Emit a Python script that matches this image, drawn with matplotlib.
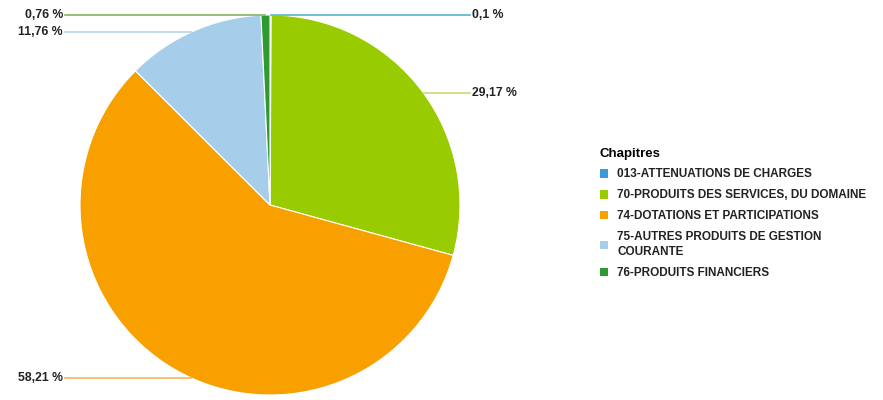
import numpy as np
import matplotlib.pyplot as plt
from matplotlib.patches import Patch

plt.rcParams['font.family'] = ['Liberation Sans', 'DejaVu Sans']

# données
chapitres = ['013-ATTENUATIONS DE CHARGES', '70-PRODUITS DES SERVICES, DU DOMAINE',
             '74-DOTATIONS ET PARTICIPATIONS', '75-AUTRES PRODUITS DE GESTION\nCOURANTE',
             '76-PRODUITS FINANCIERS']
parts = [0.1, 29.17, 58.21, 11.76, 0.76]
etiquettes = ['0,1 %', '29,17 %', '58,21 %', '11,76 %', '0,76 %']
couleurs = ['#3d9ad8', '#99cc00', '#f7a000', '#a6cdea', '#2f9a2f']
lignes = ['#5bb0d0', '#c8dc70', '#f2b860', '#b8d4e8', '#88b060']

W, H = 883, 400
fig = plt.figure(figsize=(W / 100, H / 100), dpi=100)
ax = fig.add_axes([0, 0, 1, 1])

cx, cy, r = 270, 195, 190
wedges, _ = ax.pie(parts, colors=couleurs, startangle=90, counterclock=False,
                   center=(cx, cy), radius=r, frame=True,
                   wedgeprops=dict(edgecolor='white', linewidth=0.8))
ax.set_xlim(0, W)
ax.set_ylim(0, H)
ax.set_aspect('equal')
ax.axis('off')

# position des étiquettes (y en pixels depuis le haut, côté)
label_y = [15, 93, 378, 32, 15]
cote = [1, 1, -1, -1, -1]
for i, w in enumerate(wedges):
    y = H - label_y[i]
    dy = min(abs(y - cy), r)
    dx = np.sqrt(r ** 2 - dy ** 2)
    if i in (0, 4):
        # petites parts: point au sommet
        ang = np.deg2rad((w.theta1 + w.theta2) / 2)
        xe = cx + r * np.cos(ang)
    else:
        xe = cx + cote[i] * dx
    if cote[i] > 0:
        ax.plot([xe, 470], [y, y], color=lignes[i], lw=1.2)
        ax.text(472, y, etiquettes[i], ha='left', va='center', fontsize=8.8,
                fontweight='bold', color='#222222')
    else:
        ax.plot([65, xe], [y, y], color=lignes[i], lw=1.2)
        ax.text(63, y, etiquettes[i], ha='right', va='center', fontsize=8.8,
                fontweight='bold', color='#222222')

handles = [Patch(facecolor=c, edgecolor='none') for c in couleurs]
leg = ax.legend(handles, chapitres, title='Chapitres', loc='upper left',
                bbox_to_anchor=(589 / W, 1 - 137 / H), frameon=False,
                prop=dict(size=8.5, weight='bold'), handlelength=0.75,
                handleheight=0.75, handletextpad=0.75, labelspacing=0.75,
                alignment='left')
leg.get_title().set_fontweight('bold')
leg.get_title().set_fontsize(9.5)
for t in leg.get_texts():
    t.set_color('#222222')
    t.set_linespacing(1.35)

plt.savefig('out.png', dpi=100)
